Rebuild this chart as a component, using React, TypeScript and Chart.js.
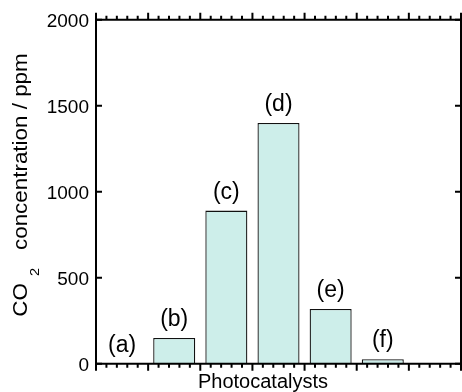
import React, { useEffect, useRef } from "react";
import { Chart, registerables } from "chart.js";

Chart.register(...registerables);

const categories = ["(a)", "(b)", "(c)", "(d)", "(e)", "(f)", ""];
const values: (number | null)[] = [0, 150, 890, 1400, 318, 26, null];
const yMin = 0;
const yMax = 2000;
const yStep = 500;
const xTitle = "Photocatalysts";
const yTitleParts = { main: "CO", sub: "2", rest: "concentration / ppm" };

const FONT = "'Liberation Sans', Arial, Helvetica, sans-serif";

const axesPlugin = {
  id: "customAxes",
  afterDraw(chart: any) {
    const { ctx, chartArea, scales } = chart;
    const x = scales.x;
    const y = scales.y;
    const { left, right, top, bottom } = chartArea;
    ctx.save();
    ctx.strokeStyle = "#000";
    ctx.lineWidth = 2;
    ctx.lineCap = "butt";
    // frame
    ctx.beginPath();
    ctx.moveTo(left, top);
    ctx.lineTo(left, bottom);
    ctx.moveTo(left - 1, bottom);
    ctx.lineTo(right + 1, bottom);
    ctx.moveTo(right, bottom);
    ctx.lineTo(right, top);
    ctx.moveTo(right + 1, top);
    ctx.lineTo(left - 1, top);
    ctx.stroke();

    // x ticks (category boundaries + minor)
    const n = categories.length;
    const bounds: number[] = [];
    for (let i = 0; i <= n; i++) {
      if (i === 0) bounds.push(left);
      else if (i === n) bounds.push(right);
      else bounds.push((x.getPixelForValue(i - 1) + x.getPixelForValue(i)) / 2);
    }
    ctx.beginPath();
    for (let i = 0; i < bounds.length; i++) {
      const px = bounds[i];
      ctx.moveTo(px, bottom);
      ctx.lineTo(px, bottom + 7);
      ctx.moveTo(px, top);
      ctx.lineTo(px, top - 7);
      if (i < bounds.length - 1) {
        const w = (bounds[i + 1] - px) / 5;
        for (let k = 1; k < 5; k++) {
          const mx = px + w * k;
          ctx.moveTo(mx, bottom);
          ctx.lineTo(mx, bottom + 4);
          ctx.moveTo(mx, top);
          ctx.lineTo(mx, top - 4);
        }
      }
    }
    ctx.stroke();

    // y ticks inward, both sides
    ctx.beginPath();
    y.ticks.forEach((t: any) => {
      const py = y.getPixelForValue(t.value);
      ctx.moveTo(left, py);
      ctx.lineTo(left + 6, py);
      ctx.moveTo(right, py);
      ctx.lineTo(right - 6, py);
    });
    ctx.stroke();

    // bar labels
    const meta = chart.getDatasetMeta(0);
    ctx.fillStyle = "#000";
    ctx.font = `23px ${FONT}`;
    ctx.textAlign = "center";
    ctx.textBaseline = "alphabetic";
    meta.data.forEach((el: any, i: number) => {
      if (values[i] === null || values[i] === undefined) return;
      ctx.fillText(categories[i], el.x, el.y - 12);
    });

    // x title
    ctx.font = `20px ${FONT}`;
    ctx.fillText(xTitle, left + 167, 388);

    // y title (rotated, with subscript)
    const mainFont = `20px ${FONT}`;
    const subFont = `13px ${FONT}`;
    const stretch = 1.12;
    ctx.font = mainFont;
    const wMain = ctx.measureText(yTitleParts.main).width;
    const wRest = ctx.measureText(yTitleParts.rest).width;
    ctx.font = subFont;
    const wSub = ctx.measureText(yTitleParts.sub).width;
    const gap1 = 7;
    const gap2 = 18;
    const total = (wMain + wRest + wSub) * stretch + gap1 + gap2;
    const cy = 185;
    ctx.translate(26.5, cy);
    ctx.rotate(-Math.PI / 2);
    let pos = -total / 2;
    ctx.textAlign = "left";
    ctx.save();
    ctx.translate(pos, 0);
    ctx.scale(stretch, 1);
    ctx.font = mainFont;
    ctx.fillText(yTitleParts.main, 0, 0);
    ctx.restore();
    pos += wMain * stretch + gap1;
    ctx.save();
    ctx.translate(pos, 0);
    ctx.scale(stretch, 1);
    ctx.font = subFont;
    ctx.fillText(yTitleParts.sub, 0, 12);
    ctx.restore();
    pos += wSub * stretch + gap2;
    ctx.save();
    ctx.translate(pos, 0);
    ctx.scale(stretch, 1);
    ctx.font = mainFont;
    ctx.fillText(yTitleParts.rest, 0, 0);
    ctx.restore();

    ctx.restore();
  },
};

export default function App() {
  const ref = useRef<HTMLCanvasElement | null>(null);
  useEffect(() => {
    if (!ref.current) return;
    const chart = new Chart(ref.current, {
      type: "bar",
      data: {
        labels: categories,
        datasets: [
          {
            data: values,
            backgroundColor: "#cdeeea",
            borderColor: "#111",
            borderWidth: 1.3,
            barPercentage: 0.806,
            categoryPercentage: 1,
          },
        ],
      },
      options: {
        responsive: false,
        animation: false,
        events: [],
        layout: { padding: { top: 19.7, right: 1, left: 0, bottom: 0 } },
        plugins: {
          legend: { display: false },
          tooltip: { enabled: false },
          title: { display: false },
        },
        scales: {
          x: {
            type: "category",
            offset: true,
            grid: { display: false, drawTicks: false, offset: true },
            border: { display: false },
            ticks: { display: false },
            afterFit(scale: any) {
              scale.height = 28.3;
            },
          },
          y: {
            min: yMin,
            max: yMax,
            grid: { display: false, drawTicks: false },
            border: { display: false },
            ticks: {
              stepSize: yStep,
              padding: 7,
              color: "#000",
              labelOffset: 2,
              font: { family: FONT, size: 19 },
              callback: (v: any) => String(v),
            },
            afterFit(scale: any) {
              scale.width = 96;
            },
          },
        },
      },
      plugins: [axesPlugin],
    });
    return () => chart.destroy();
  }, []);
  return (
    <div style={{ position: "fixed", left: 0, top: 0, width: 462, height: 392, background: "#fff" }}>
      <canvas ref={ref} width={462} height={392} style={{ display: "block" }} />
    </div>
  );
}
